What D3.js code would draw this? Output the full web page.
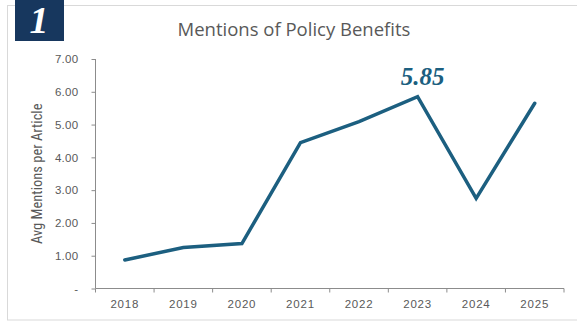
<!DOCTYPE html>
<html>
<head>
<meta charset="utf-8">
<script src="https://cdn.jsdelivr.net/npm/d3@7"></script>
<style>
  html, body { margin: 0; padding: 0; background: #fff; }
  svg { display: block; }
</style>
</head>
<body>
<svg id="chart" width="577" height="322"></svg>
<script>
const years = ["2018", "2019", "2020", "2021", "2022", "2023", "2024", "2025"];
const mentions = [0.87, 1.25, 1.37, 4.45, 5.09, 5.85, 2.75, 5.65];
const yTicks = [0, 1, 2, 3, 4, 5, 6, 7];
const chartTitle = "Mentions of Policy Benefits";
const yTitle = "Avg Mentions per Article";
const badgeText = "1";
const calloutIndex = 5;

const svg = d3.select("#chart");
const lineColor = "#1c5f80";
const textColor = "#595959";
const axisColor = "#8c8c8c";

// outer frame
svg.append("rect")
  .attr("x", 7.5).attr("y", 5.5).attr("width", 580).attr("height", 314.5)
  .attr("fill", "none").attr("stroke", "#d9d9d9").attr("stroke-width", 1);

// badge
svg.append("rect").attr("x", 15).attr("y", 0).attr("width", 49).attr("height", 41).attr("fill", "#17375e");
svg.append("text").attr("x", 39).attr("y", 33).attr("text-anchor", "middle")
  .attr("font-family", "'Liberation Serif', 'DejaVu Serif', serif")
  .attr("font-style", "italic").attr("font-weight", "bold")
  .attr("font-size", 38).attr("fill", "#fff").text(badgeText);

// title
svg.append("text").attr("x", 294).attr("y", 36).attr("text-anchor", "middle")
  .attr("font-family", "'Open Sans', 'Noto Sans', sans-serif")
  .attr("font-size", 18.5).attr("fill", textColor).text(chartTitle);

const x = d3.scaleBand().domain(years).range([95.5, 564]).padding(0);
const y = d3.scaleLinear().domain([0, 7]).range([288.5, 59]);

// y axis
const yAxis = svg.append("g").attr("transform", "translate(95.5,0)")
  .call(d3.axisLeft(y).tickValues(yTicks).tickSize(4).tickPadding(13)
    .tickFormat(d => d === 0 ? "-" : d3.format(".2f")(d)));
yAxis.select(".domain").attr("stroke", axisColor).attr("d", "M0,59V288.5");
yAxis.selectAll(".tick line").attr("stroke", axisColor);
yAxis.selectAll(".tick text").attr("fill", textColor)
  .attr("font-family", "'Liberation Sans', Arial, sans-serif").attr("font-size", 11.5)
  .attr("letter-spacing", 0.3);

// x axis
const xAxis = svg.append("g").attr("transform", "translate(0,288.5)")
  .call(d3.axisBottom(x).tickSize(0).tickPadding(11));
xAxis.select(".domain").attr("stroke", axisColor).attr("d", "M95.5,0H564");
xAxis.selectAll(".tick text").attr("fill", textColor)
  .attr("font-family", "'Liberation Sans', Arial, sans-serif").attr("font-size", 11.5)
  .attr("letter-spacing", 0.8);
// boundary tick marks
const bounds = years.map(d => x(d)).concat([x(years[years.length - 1]) + x.bandwidth()]);
xAxis.selectAll(".btick").data(bounds).enter().append("line")
  .attr("class", "btick").attr("x1", d => d).attr("x2", d => d)
  .attr("y1", 0).attr("y2", 4).attr("stroke", axisColor);

// y title
svg.append("text")
  .attr("transform", `translate(42,${(59 + 288.5) / 2}) rotate(-90)`)
  .attr("text-anchor", "middle")
  .attr("font-family", "'Liberation Sans Narrow', 'Arial Narrow', 'Roboto Condensed', sans-serif")
  .attr("font-size", 14.5).attr("fill", textColor).text(yTitle);

// line
const line = d3.line().x((d, i) => x(years[i]) + x.bandwidth() / 2).y(d => y(d));
svg.append("path").datum(mentions).attr("d", line)
  .attr("fill", "none").attr("stroke", lineColor).attr("stroke-width", 3.5)
  .attr("stroke-linejoin", "miter").attr("stroke-linecap", "round");

// callout
svg.append("text")
  .attr("x", x(years[calloutIndex]) + x.bandwidth() / 2 + 5)
  .attr("y", y(mentions[calloutIndex]) - 12)
  .attr("text-anchor", "middle")
  .attr("font-family", "'Liberation Serif', 'DejaVu Serif', serif")
  .attr("font-style", "italic").attr("font-weight", "bold")
  .attr("font-size", 25).attr("fill", lineColor)
  .text(d3.format(".2f")(mentions[calloutIndex]));
</script>
</body>
</html>
